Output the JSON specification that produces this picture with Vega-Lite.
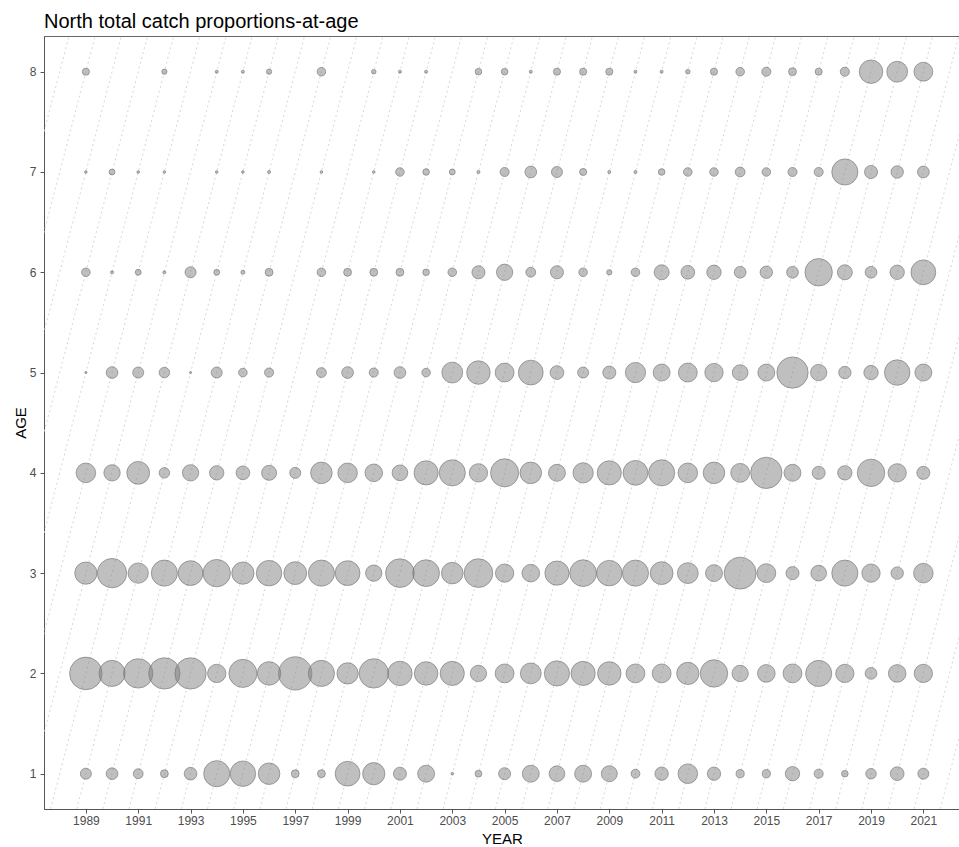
{
  "$schema": "https://vega.github.io/schema/vega-lite/v6.json",
  "width": 916,
  "height": 773,
  "autosize": "none",
  "padding": {"left": 44, "top": 36, "right": 0, "bottom": 38},
  "background": "white",
  "title": {"text": "North total catch proportions-at-age", "anchor": "start", "frame": "group", "fontSize": 20, "font": "Liberation Sans", "fontWeight": "normal", "color": "#000000", "baseline": "alphabetic", "offset": -12},
  "config": {
    "view": {"stroke": "#666666", "strokeWidth": 1},
    "axis": {"grid": false, "domainColor": "#555555", "tickColor": "#555555", "labelColor": "#4d4d4d", "labelFont": "Liberation Sans", "titleFont": "Liberation Sans", "titleFontWeight": "normal", "titleColor": "#000000", "labelFontSize": 12, "titleFontSize": 15, "tickSize": 4}
  },
  "datasets": {
    "cohorts": [
      {"c": 1980, "y0": 1980.65, "a0": 0.65, "y9": 1988.35, "a9": 8.35},
      {"c": 1981, "y0": 1981.65, "a0": 0.65, "y9": 1989.35, "a9": 8.35},
      {"c": 1982, "y0": 1982.65, "a0": 0.65, "y9": 1990.35, "a9": 8.35},
      {"c": 1983, "y0": 1983.65, "a0": 0.65, "y9": 1991.35, "a9": 8.35},
      {"c": 1984, "y0": 1984.65, "a0": 0.65, "y9": 1992.35, "a9": 8.35},
      {"c": 1985, "y0": 1985.65, "a0": 0.65, "y9": 1993.35, "a9": 8.35},
      {"c": 1986, "y0": 1986.65, "a0": 0.65, "y9": 1994.35, "a9": 8.35},
      {"c": 1987, "y0": 1987.65, "a0": 0.65, "y9": 1995.35, "a9": 8.35},
      {"c": 1988, "y0": 1988.65, "a0": 0.65, "y9": 1996.35, "a9": 8.35},
      {"c": 1989, "y0": 1989.65, "a0": 0.65, "y9": 1997.35, "a9": 8.35},
      {"c": 1990, "y0": 1990.65, "a0": 0.65, "y9": 1998.35, "a9": 8.35},
      {"c": 1991, "y0": 1991.65, "a0": 0.65, "y9": 1999.35, "a9": 8.35},
      {"c": 1992, "y0": 1992.65, "a0": 0.65, "y9": 2000.35, "a9": 8.35},
      {"c": 1993, "y0": 1993.65, "a0": 0.65, "y9": 2001.35, "a9": 8.35},
      {"c": 1994, "y0": 1994.65, "a0": 0.65, "y9": 2002.35, "a9": 8.35},
      {"c": 1995, "y0": 1995.65, "a0": 0.65, "y9": 2003.35, "a9": 8.35},
      {"c": 1996, "y0": 1996.65, "a0": 0.65, "y9": 2004.35, "a9": 8.35},
      {"c": 1997, "y0": 1997.65, "a0": 0.65, "y9": 2005.35, "a9": 8.35},
      {"c": 1998, "y0": 1998.65, "a0": 0.65, "y9": 2006.35, "a9": 8.35},
      {"c": 1999, "y0": 1999.65, "a0": 0.65, "y9": 2007.35, "a9": 8.35},
      {"c": 2000, "y0": 2000.65, "a0": 0.65, "y9": 2008.35, "a9": 8.35},
      {"c": 2001, "y0": 2001.65, "a0": 0.65, "y9": 2009.35, "a9": 8.35},
      {"c": 2002, "y0": 2002.65, "a0": 0.65, "y9": 2010.35, "a9": 8.35},
      {"c": 2003, "y0": 2003.65, "a0": 0.65, "y9": 2011.35, "a9": 8.35},
      {"c": 2004, "y0": 2004.65, "a0": 0.65, "y9": 2012.35, "a9": 8.35},
      {"c": 2005, "y0": 2005.65, "a0": 0.65, "y9": 2013.35, "a9": 8.35},
      {"c": 2006, "y0": 2006.65, "a0": 0.65, "y9": 2014.35, "a9": 8.35},
      {"c": 2007, "y0": 2007.65, "a0": 0.65, "y9": 2015.35, "a9": 8.35},
      {"c": 2008, "y0": 2008.65, "a0": 0.65, "y9": 2016.35, "a9": 8.35},
      {"c": 2009, "y0": 2009.65, "a0": 0.65, "y9": 2017.35, "a9": 8.35},
      {"c": 2010, "y0": 2010.65, "a0": 0.65, "y9": 2018.35, "a9": 8.35},
      {"c": 2011, "y0": 2011.65, "a0": 0.65, "y9": 2019.35, "a9": 8.35},
      {"c": 2012, "y0": 2012.65, "a0": 0.65, "y9": 2020.35, "a9": 8.35},
      {"c": 2013, "y0": 2013.65, "a0": 0.65, "y9": 2021.35, "a9": 8.35},
      {"c": 2014, "y0": 2014.65, "a0": 0.65, "y9": 2022.35, "a9": 8.35},
      {"c": 2015, "y0": 2015.65, "a0": 0.65, "y9": 2023.35, "a9": 8.35},
      {"c": 2016, "y0": 2016.65, "a0": 0.65, "y9": 2024.35, "a9": 8.35},
      {"c": 2017, "y0": 2017.65, "a0": 0.65, "y9": 2025.35, "a9": 8.35},
      {"c": 2018, "y0": 2018.65, "a0": 0.65, "y9": 2026.35, "a9": 8.35},
      {"c": 2019, "y0": 2019.65, "a0": 0.65, "y9": 2027.35, "a9": 8.35},
      {"c": 2020, "y0": 2020.65, "a0": 0.65, "y9": 2028.35, "a9": 8.35},
      {"c": 2021, "y0": 2021.65, "a0": 0.65, "y9": 2029.35, "a9": 8.35}
    ],
    "paa": [
      {"year":1989,"age":1,"prop":0.053},{"year":1990,"age":1,"prop":0.060},{"year":1991,"age":1,"prop":0.042},{"year":1992,"age":1,"prop":0.027},{"year":1993,"age":1,"prop":0.070},{"year":1994,"age":1,"prop":0.297},{"year":1995,"age":1,"prop":0.282},{"year":1996,"age":1,"prop":0.202},{"year":1997,"age":1,"prop":0.027},{"year":1998,"age":1,"prop":0.027},{"year":1999,"age":1,"prop":0.267},{"year":2000,"age":1,"prop":0.215},{"year":2001,"age":1,"prop":0.074},{"year":2002,"age":1,"prop":0.125},{"year":2003,"age":1,"prop":0.003},{"year":2004,"age":1,"prop":0.020},{"year":2005,"age":1,"prop":0.063},{"year":2006,"age":1,"prop":0.125},{"year":2007,"age":1,"prop":0.107},{"year":2008,"age":1,"prop":0.125},{"year":2009,"age":1,"prop":0.111},{"year":2010,"age":1,"prop":0.034},{"year":2011,"age":1,"prop":0.078},{"year":2012,"age":1,"prop":0.167},{"year":2013,"age":1,"prop":0.078},{"year":2014,"age":1,"prop":0.029},{"year":2015,"age":1,"prop":0.029},{"year":2016,"age":1,"prop":0.090},{"year":2017,"age":1,"prop":0.036},{"year":2018,"age":1,"prop":0.019},{"year":2019,"age":1,"prop":0.048},{"year":2020,"age":1,"prop":0.082},{"year":2021,"age":1,"prop":0.053},
      {"year":1989,"age":2,"prop":0.462},{"year":1990,"age":2,"prop":0.297},{"year":1991,"age":2,"prop":0.375},{"year":1992,"age":2,"prop":0.427},{"year":1993,"age":2,"prop":0.427},{"year":1994,"age":2,"prop":0.146},{"year":1995,"age":2,"prop":0.343},{"year":1996,"age":2,"prop":0.240},{"year":1997,"age":2,"prop":0.482},{"year":1998,"age":2,"prop":0.297},{"year":1999,"age":2,"prop":0.196},{"year":2000,"age":2,"prop":0.375},{"year":2001,"age":2,"prop":0.260},{"year":2002,"age":2,"prop":0.240},{"year":2003,"age":2,"prop":0.254},{"year":2004,"age":2,"prop":0.116},{"year":2005,"age":2,"prop":0.155},{"year":2006,"age":2,"prop":0.189},{"year":2007,"age":2,"prop":0.275},{"year":2008,"age":2,"prop":0.254},{"year":2009,"age":2,"prop":0.240},{"year":2010,"age":2,"prop":0.155},{"year":2011,"age":2,"prop":0.155},{"year":2012,"age":2,"prop":0.215},{"year":2013,"age":2,"prop":0.327},{"year":2014,"age":2,"prop":0.116},{"year":2015,"age":2,"prop":0.135},{"year":2016,"age":2,"prop":0.155},{"year":2017,"age":2,"prop":0.297},{"year":2018,"age":2,"prop":0.146},{"year":2019,"age":2,"prop":0.060},{"year":2020,"age":2,"prop":0.135},{"year":2021,"age":2,"prop":0.146},
      {"year":1989,"age":3,"prop":0.215},{"year":1990,"age":3,"prop":0.375},{"year":1991,"age":3,"prop":0.179},{"year":1992,"age":3,"prop":0.297},{"year":1993,"age":3,"prop":0.267},{"year":1994,"age":3,"prop":0.327},{"year":1995,"age":3,"prop":0.215},{"year":1996,"age":3,"prop":0.282},{"year":1997,"age":3,"prop":0.226},{"year":1998,"age":3,"prop":0.297},{"year":1999,"age":3,"prop":0.267},{"year":2000,"age":3,"prop":0.116},{"year":2001,"age":3,"prop":0.358},{"year":2002,"age":3,"prop":0.311},{"year":2003,"age":3,"prop":0.202},{"year":2004,"age":3,"prop":0.358},{"year":2005,"age":3,"prop":0.146},{"year":2006,"age":3,"prop":0.135},{"year":2007,"age":3,"prop":0.254},{"year":2008,"age":3,"prop":0.311},{"year":2009,"age":3,"prop":0.282},{"year":2010,"age":3,"prop":0.297},{"year":2011,"age":3,"prop":0.226},{"year":2012,"age":3,"prop":0.189},{"year":2013,"age":3,"prop":0.125},{"year":2014,"age":3,"prop":0.445},{"year":2015,"age":3,"prop":0.155},{"year":2016,"age":3,"prop":0.074},{"year":2017,"age":3,"prop":0.107},{"year":2018,"age":3,"prop":0.297},{"year":2019,"age":3,"prop":0.146},{"year":2020,"age":3,"prop":0.067},{"year":2021,"age":3,"prop":0.167},
      {"year":1989,"age":4,"prop":0.167},{"year":1990,"age":4,"prop":0.116},{"year":1991,"age":4,"prop":0.226},{"year":1992,"age":4,"prop":0.048},{"year":1993,"age":4,"prop":0.116},{"year":1994,"age":4,"prop":0.090},{"year":1995,"age":4,"prop":0.082},{"year":1996,"age":4,"prop":0.098},{"year":1997,"age":4,"prop":0.053},{"year":1998,"age":4,"prop":0.202},{"year":1999,"age":4,"prop":0.167},{"year":2000,"age":4,"prop":0.135},{"year":2001,"age":4,"prop":0.107},{"year":2002,"age":4,"prop":0.254},{"year":2003,"age":4,"prop":0.297},{"year":2004,"age":4,"prop":0.146},{"year":2005,"age":4,"prop":0.343},{"year":2006,"age":4,"prop":0.202},{"year":2007,"age":4,"prop":0.125},{"year":2008,"age":4,"prop":0.179},{"year":2009,"age":4,"prop":0.254},{"year":2010,"age":4,"prop":0.267},{"year":2011,"age":4,"prop":0.297},{"year":2012,"age":4,"prop":0.167},{"year":2013,"age":4,"prop":0.202},{"year":2014,"age":4,"prop":0.155},{"year":2015,"age":4,"prop":0.427},{"year":2016,"age":4,"prop":0.125},{"year":2017,"age":4,"prop":0.074},{"year":2018,"age":4,"prop":0.090},{"year":2019,"age":4,"prop":0.327},{"year":2020,"age":4,"prop":0.146},{"year":2021,"age":4,"prop":0.074},
      {"year":1989,"age":5,"prop":0.002},{"year":1990,"age":5,"prop":0.060},{"year":1991,"age":5,"prop":0.053},{"year":1992,"age":5,"prop":0.048},{"year":1993,"age":5,"prop":0.002},{"year":1994,"age":5,"prop":0.053},{"year":1995,"age":5,"prop":0.032},{"year":1996,"age":5,"prop":0.036},{"year":1998,"age":5,"prop":0.042},{"year":1999,"age":5,"prop":0.060},{"year":2000,"age":5,"prop":0.036},{"year":2001,"age":5,"prop":0.060},{"year":2002,"age":5,"prop":0.032},{"year":2003,"age":5,"prop":0.189},{"year":2004,"age":5,"prop":0.240},{"year":2005,"age":5,"prop":0.155},{"year":2006,"age":5,"prop":0.267},{"year":2007,"age":5,"prop":0.082},{"year":2008,"age":5,"prop":0.053},{"year":2009,"age":5,"prop":0.074},{"year":2010,"age":5,"prop":0.179},{"year":2011,"age":5,"prop":0.125},{"year":2012,"age":5,"prop":0.155},{"year":2013,"age":5,"prop":0.146},{"year":2014,"age":5,"prop":0.107},{"year":2015,"age":5,"prop":0.125},{"year":2016,"age":5,"prop":0.427},{"year":2017,"age":5,"prop":0.116},{"year":2018,"age":5,"prop":0.067},{"year":2019,"age":5,"prop":0.090},{"year":2020,"age":5,"prop":0.282},{"year":2021,"age":5,"prop":0.125},
      {"year":1989,"age":6,"prop":0.032},{"year":1990,"age":6,"prop":0.004},{"year":1991,"age":6,"prop":0.015},{"year":1992,"age":6,"prop":0.004},{"year":1993,"age":6,"prop":0.053},{"year":1994,"age":6,"prop":0.015},{"year":1995,"age":6,"prop":0.007},{"year":1996,"age":6,"prop":0.027},{"year":1998,"age":6,"prop":0.032},{"year":1999,"age":6,"prop":0.027},{"year":2000,"age":6,"prop":0.027},{"year":2001,"age":6,"prop":0.027},{"year":2002,"age":6,"prop":0.019},{"year":2003,"age":6,"prop":0.032},{"year":2004,"age":6,"prop":0.074},{"year":2005,"age":6,"prop":0.116},{"year":2006,"age":6,"prop":0.042},{"year":2007,"age":6,"prop":0.074},{"year":2008,"age":6,"prop":0.032},{"year":2009,"age":6,"prop":0.012},{"year":2010,"age":6,"prop":0.032},{"year":2011,"age":6,"prop":0.098},{"year":2012,"age":6,"prop":0.082},{"year":2013,"age":6,"prop":0.090},{"year":2014,"age":6,"prop":0.060},{"year":2015,"age":6,"prop":0.067},{"year":2016,"age":6,"prop":0.060},{"year":2017,"age":6,"prop":0.327},{"year":2018,"age":6,"prop":0.098},{"year":2019,"age":6,"prop":0.060},{"year":2020,"age":6,"prop":0.090},{"year":2021,"age":6,"prop":0.267},
      {"year":1989,"age":7,"prop":0.003},{"year":1990,"age":7,"prop":0.015},{"year":1991,"age":7,"prop":0.003},{"year":1992,"age":7,"prop":0.003},{"year":1994,"age":7,"prop":0.003},{"year":1995,"age":7,"prop":0.003},{"year":1996,"age":7,"prop":0.004},{"year":1998,"age":7,"prop":0.003},{"year":2000,"age":7,"prop":0.003},{"year":2001,"age":7,"prop":0.032},{"year":2002,"age":7,"prop":0.019},{"year":2003,"age":7,"prop":0.015},{"year":2004,"age":7,"prop":0.004},{"year":2005,"age":7,"prop":0.036},{"year":2006,"age":7,"prop":0.060},{"year":2007,"age":7,"prop":0.053},{"year":2008,"age":7,"prop":0.022},{"year":2009,"age":7,"prop":0.004},{"year":2010,"age":7,"prop":0.004},{"year":2011,"age":7,"prop":0.019},{"year":2012,"age":7,"prop":0.032},{"year":2013,"age":7,"prop":0.032},{"year":2014,"age":7,"prop":0.042},{"year":2015,"age":7,"prop":0.032},{"year":2016,"age":7,"prop":0.036},{"year":2017,"age":7,"prop":0.036},{"year":2018,"age":7,"prop":0.297},{"year":2019,"age":7,"prop":0.074},{"year":2020,"age":7,"prop":0.067},{"year":2021,"age":7,"prop":0.060},
      {"year":1989,"age":8,"prop":0.022},{"year":1992,"age":8,"prop":0.012},{"year":1994,"age":8,"prop":0.004},{"year":1995,"age":8,"prop":0.004},{"year":1996,"age":8,"prop":0.012},{"year":1998,"age":8,"prop":0.032},{"year":2000,"age":8,"prop":0.009},{"year":2001,"age":8,"prop":0.004},{"year":2002,"age":8,"prop":0.004},{"year":2004,"age":8,"prop":0.019},{"year":2005,"age":8,"prop":0.019},{"year":2006,"age":8,"prop":0.004},{"year":2007,"age":8,"prop":0.022},{"year":2008,"age":8,"prop":0.022},{"year":2009,"age":8,"prop":0.022},{"year":2010,"age":8,"prop":0.004},{"year":2011,"age":8,"prop":0.004},{"year":2012,"age":8,"prop":0.009},{"year":2013,"age":8,"prop":0.022},{"year":2014,"age":8,"prop":0.032},{"year":2015,"age":8,"prop":0.036},{"year":2016,"age":8,"prop":0.027},{"year":2017,"age":8,"prop":0.022},{"year":2018,"age":8,"prop":0.036},{"year":2019,"age":8,"prop":0.240},{"year":2020,"age":8,"prop":0.189},{"year":2021,"age":8,"prop":0.155}
    ]
  },
  "layer": [
    {
      "data": {"name": "cohorts"},
      "mark": {"type": "rule", "clip": true, "color": "#d6d6d6", "strokeWidth": 1, "strokeDash": [2, 3]},
      "encoding": {
        "x": {"field": "y0", "type": "quantitative", "scale": {"domain": [1987.4, 2022.4], "nice": false, "zero": false}, "title": "YEAR",
          "axis": {"values": [1989,1990,1991,1992,1993,1994,1995,1996,1997,1998,1999,2000,2001,2002,2003,2004,2005,2006,2007,2008,2009,2010,2011,2012,2013,2014,2015,2016,2017,2018,2019,2020,2021,2022], "labelExpr": "datum.value % 2 == 1 ? '' + datum.value : ''", "labelPadding": 2, "titlePadding": 5, "labelFlush": false, "labelOverlap": false}},
        "x2": {"field": "y9"},
        "y": {"field": "a0", "type": "quantitative", "scale": {"domain": [0.648, 8.356], "nice": false, "zero": false}, "title": "AGE",
          "axis": {"values": [1,2,3,4,5,6,7,8], "format": "d", "labelPadding": 4, "titlePadding": 1}},
        "y2": {"field": "a9"}
      }
    },
    {
      "data": {"name": "paa"},
      "mark": {"type": "circle", "fill": "#7f7f7f", "fillOpacity": 0.5, "stroke": "#6f6f6f", "strokeOpacity": 0.6, "strokeWidth": 1},
      "encoding": {
        "x": {"field": "year", "type": "quantitative"},
        "y": {"field": "age", "type": "quantitative"},
        "size": {"field": "prop", "type": "quantitative", "scale": {"type": "linear", "domain": [0, 1], "range": [0, 2300], "zero": true}, "legend": null}
      }
    }
  ]
}
